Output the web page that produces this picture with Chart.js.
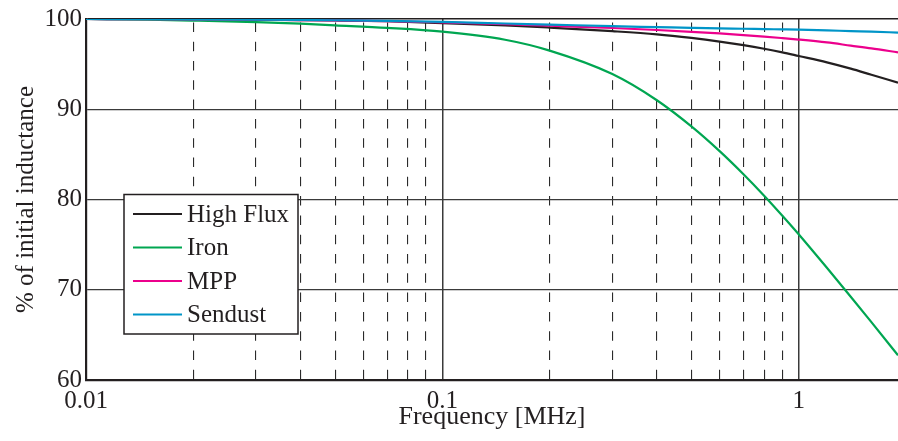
<!DOCTYPE html>
<html>
<head>
<meta charset="utf-8">
<script src="https://cdn.jsdelivr.net/npm/chart.js@4/dist/chart.umd.min.js"></script>
<style>
  html, body { margin: 0; padding: 0; background: #fff; }
  #wrap { width: 898px; height: 441px; }
</style>
</head>
<body>
<div id="wrap"><canvas id="c" width="898" height="441"></canvas></div>
<script>
const frequencies = [0.01, 0.015, 0.02, 0.03, 0.04, 0.05, 0.07, 0.1, 0.15, 0.2, 0.3, 0.4, 0.5, 0.6, 0.7, 0.8, 0.9, 1.0, 1.2, 1.4, 1.6, 1.9];
const highFlux = [100, 99.97, 99.95, 99.92, 99.88, 99.84, 99.75, 99.55, 99.3, 99.05, 98.65, 98.3, 97.9, 97.5, 97.1, 96.7, 96.3, 95.9, 95.2, 94.5, 93.82, 92.95];
const iron     = [100, 99.92, 99.82, 99.65, 99.48, 99.3, 99.02, 98.6, 97.7, 96.5, 93.9, 91.0, 88.1, 85.36, 82.8, 80.42, 78.2, 76.15, 72.43, 69.23, 66.41, 62.74];
const mpp      = [100, 99.97, 99.95, 99.92, 99.88, 99.85, 99.77, 99.62, 99.42, 99.25, 99.0, 98.78, 98.58, 98.4, 98.22, 98.05, 97.88, 97.72, 97.4, 97.05, 96.75, 96.3];
const sendust  = [100, 99.97, 99.95, 99.92, 99.89, 99.86, 99.8, 99.68, 99.5, 99.38, 99.2, 99.1, 99.02, 98.96, 98.92, 98.88, 98.85, 98.82, 98.74, 98.66, 98.6, 98.5];
const seriesNames = ["High Flux", "Iron", "MPP", "Sendust"];
const seriesColors = ["#231f20", "#00a651", "#ec008c", "#0095c8"];
const yTicks = [60, 70, 80, 90, 100];
const xMajorTicks = [0.01, 0.1, 1];

const FONT = "'Liberation Serif', 'Times New Roman', serif";
const seriesValues = [highFlux, iron, mpp, sendust];
const drawOrder = [4, 3, 2, 1];

function isMajor(v) {
  const l = Math.log10(v);
  return Math.abs(l - Math.round(l)) < 1e-6;
}
function isMinor(v) {
  const l = Math.log10(v);
  const e = Math.floor(l + 1e-9);
  const s = v / Math.pow(10, e);
  return Math.abs(s - Math.round(s)) < 1e-6;
}

const legendPlugin = {
  id: 'boxLegend',
  afterDraw(chart) {
    const ctx = chart.ctx;
    ctx.save();
    const x0 = 124, y0 = 194.5, w = 174, h = 139.5;
    ctx.fillStyle = '#fff';
    ctx.fillRect(x0, y0, w, h);
    ctx.strokeStyle = '#231f20';
    ctx.lineWidth = 1.5;
    ctx.strokeRect(x0, y0, w, h);
    ctx.font = '25px ' + FONT;
    ctx.textBaseline = 'middle';
    ctx.textAlign = 'left';
    seriesNames.forEach((n, i) => {
      const y = 214 + i * 33.5;
      ctx.strokeStyle = seriesColors[i];
      ctx.lineWidth = 2.2;
      ctx.beginPath();
      ctx.moveTo(133, y);
      ctx.lineTo(182, y);
      ctx.stroke();
      ctx.fillStyle = '#231f20';
      ctx.fillText(n, 187, y + 1);
    });
    ctx.restore();
  }
};

new Chart(document.getElementById('c'), {
  type: 'line',
  data: {
    datasets: seriesNames.map((n, i) => ({
      label: n,
      data: frequencies.map((f, j) => ({ x: f, y: seriesValues[i][j] })),
      borderColor: seriesColors[i],
      borderWidth: 2.2,
      pointRadius: 0,
      fill: false,
      cubicInterpolationMode: 'monotone',
      order: drawOrder[i]
    }))
  },
  options: {
    responsive: false,
    animation: false,
    layout: { padding: { top: 18, right: 0, left: 0, bottom: 0 } },
    plugins: { legend: { display: false }, tooltip: { enabled: false } },
    scales: {
      x: {
        type: 'logarithmic',
        min: 0.01,
        max: 1.9,
        afterFit(s) { s.height = 61; s.paddingRight = 0; },
        ticks: {
          autoSkip: false,
          maxRotation: 0,
          padding: 6,
          color: '#231f20',
          font: { family: FONT, size: 25 },
          callback(v) {
            return xMajorTicks.some(t => Math.abs(t - v) / t < 1e-6) ? String(v) : '';
          }
        },
        grid: {
          drawTicks: false,
          color(ctx) {
            const v = ctx.tick ? ctx.tick.value : 0;
            if (!ctx.tick) return '#231f20';
            if (isMajor(v)) return '#3a3a3a';
            if (isMinor(v)) return '#2a2a2a';
            return 'rgba(0,0,0,0)';
          },
          lineWidth(ctx) {
            const v = ctx.tick ? ctx.tick.value : 0;
            return ctx.tick && isMajor(v) ? 1.5 : 1.1;
          }
        },
        border: {
          display: true,
          color: '#231f20',
          width: 2.2,
          dash(ctx) {
            if (!ctx.tick) return [];
            return isMajor(ctx.tick.value) ? [] : [9.5, 9.8];
          },
          dashOffset: 15.9
        },
        title: {
          display: true,
          text: 'Frequency [MHz]',
          color: '#231f20',
          font: { family: FONT, size: 26 },
          padding: { top: 0, bottom: 8 }
        }
      },
      y: {
        min: 60,
        max: 100,
        afterFit(s) { s.width = 86; },
        afterBuildTicks(s) { s.ticks = yTicks.map(v => ({ value: v })); },
        ticks: {
          padding: 4,
          color: '#231f20',
          font: { family: FONT, size: 25 }
        },
        grid: {
          drawTicks: false,
          color(ctx) {
            if (ctx.tick && ctx.tick.value === 100) return '#231f20';
            return '#3a3a3a';
          },
          lineWidth(ctx) {
            if (ctx.tick && ctx.tick.value === 100) return 1.6;
            return 1.2;
          }
        },
        border: { display: true, color: '#231f20', width: 2.2 },
        title: {
          display: true,
          text: '% of initial inductance',
          color: '#231f20',
          font: { family: FONT, size: 25 },
          padding: { top: 11, bottom: 0 }
        }
      }
    }
  },
  plugins: [legendPlugin]
});
</script>
</body>
</html>
